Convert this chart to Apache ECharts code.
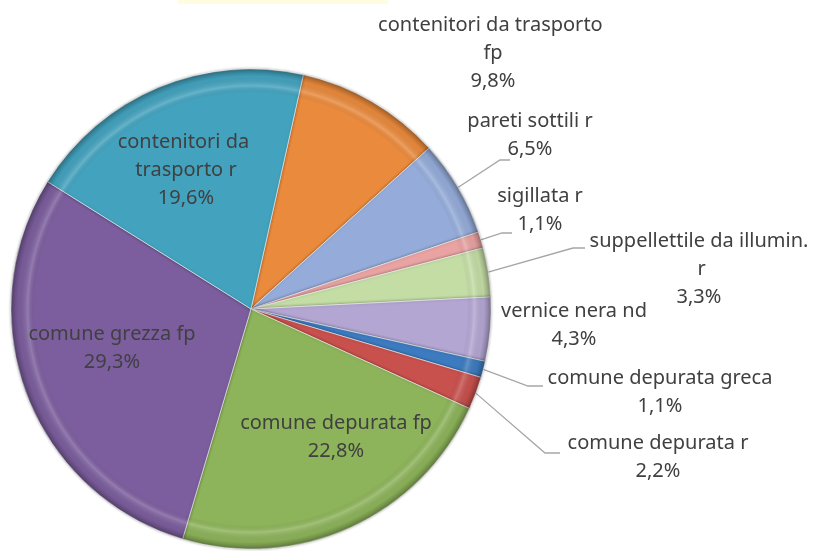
<!DOCTYPE html>
<html>
<head>
<meta charset="utf-8">
<script src="https://cdn.jsdelivr.net/npm/echarts@6/dist/echarts.min.js"></script>
<style>
  html, body { margin: 0; padding: 0; background: #fff; }
  #main { width: 819px; height: 551px; }
</style>
</head>
<body>
<div id="main"></div>
<script>
// categorie in senso orario, a partire dalla fetta arancione
const categories = [
  'contenitori da trasporto fp',
  'pareti sottili r',
  'sigillata r',
  'suppellettile da illumin. r',
  'vernice nera nd',
  'comune depurata greca',
  'comune depurata r',
  'comune depurata fp',
  'comune grezza fp',
  'contenitori da trasporto r'
]
const values = [9.8, 6.5, 1.1, 3.3, 4.3, 1.1, 2.2, 22.8, 29.3, 19.6]
const colors = ['#EA8A3C', '#95ACDA', '#E8A3A2', '#C4DDA5', '#B4A6D3',
  '#3C7BBF', '#C8504D', '#8DB45A', '#7C5E9E', '#43A3BF']

// posizione delle etichette (centro del blocco di testo)
const labelPos = [[493, 53], [530, 135], [540, 210], [699, 269], [574, 325],
  [660, 392], [658, 457], [336, 437], [112, 348], [186, 170]]
// gomito e fine delle linee guida (null = nessuna linea)
const leader = [null, [[500, 160], [510, 160]], [[502, 233], [512, 233]],
  [[573, 248], [585, 248]], null, [[528, 386], [543, 386]],
  [[545, 453], [560, 453]], null, null, null]
const inside = [7, 8, 9]
const wrapWidth = { 0: 240, 3: 220, 9: 150 }

const chart = echarts.init(document.getElementById('main'))

const data = categories.map(function (name, i) {
  const item = { name: name, value: values[i], itemStyle: { color: colors[i] } }
  item.label = inside.indexOf(i) >= 0 ? { position: 'inside' } : { position: 'outside' }
  if (wrapWidth[i]) {
    item.label.width = wrapWidth[i]
    item.label.overflow = 'break'
  }
  item.labelLine = { show: !!leader[i] }
  return item
})

// effetto "smusso" sul bordo della torta
const bevel = {
  type: 'radial', x: 251, y: 309, r: 240, global: true,
  colorStops: [
    { offset: 0, color: 'rgba(0,0,0,0)' },
    { offset: 0.9, color: 'rgba(0,0,0,0)' },
    { offset: 0.93, color: 'rgba(255,255,255,0.18)' },
    { offset: 0.97, color: 'rgba(0,0,0,0.04)' },
    { offset: 1, color: 'rgba(0,0,0,0.3)' }
  ]
}

chart.setOption({
  animation: false,
  graphic: [{
    type: 'rect',
    shape: { x: 178, y: 0, width: 210, height: 4 },
    style: { fill: '#FFFDE0' }
  }],
  series: [{
    type: 'pie',
    center: [251, 309],
    radius: 240,
    startAngle: 77.4,
    avoidLabelOverlap: false,
    data: data,
    itemStyle: {
      borderColor: 'rgba(255,255,255,0.6)',
      borderWidth: 1,
      shadowBlur: 3,
      shadowColor: 'rgba(0,0,0,0.35)'
    },
    label: {
      color: '#404040',
      fontFamily: 'Noto Sans',
      fontSize: 20,
      lineHeight: 28,
      align: 'center',
      formatter: function (p) {
        return p.name + '\n' + p.value.toFixed(1).replace('.', ',') + '%'
      }
    },
    labelLine: {
      length: 10,
      length2: 10,
      lineStyle: { color: '#A6A6A6', width: 1.3 }
    },
    labelLayout: function (params) {
      const i = params.dataIndex
      const out = {
        x: labelPos[i][0],
        y: labelPos[i][1],
        align: 'center',
        verticalAlign: 'middle'
      }
      if (leader[i] && params.labelLinePoints) {
        out.labelLinePoints = [params.labelLinePoints[0], leader[i][0], leader[i][1]]
      }
      return out
    }
  }, {
    type: 'pie',
    center: [251, 309],
    radius: 240,
    startAngle: 77.4,
    silent: true,
    label: { show: false },
    labelLine: { show: false },
    itemStyle: { color: bevel, borderWidth: 0 },
    data: values
  }]
})
</script>
</body>
</html>
